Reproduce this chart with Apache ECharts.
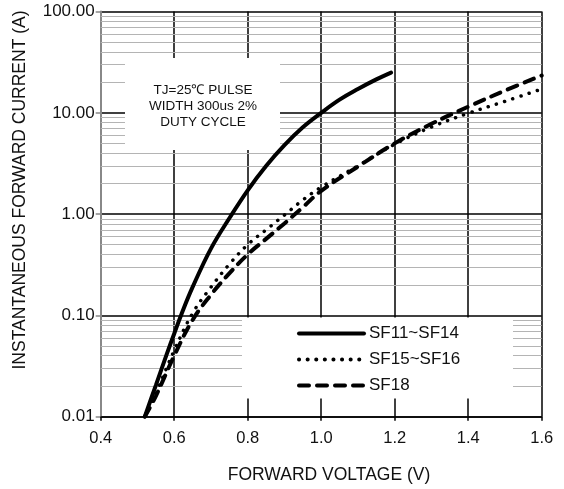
<!DOCTYPE html>
<html>
<head>
<meta charset="utf-8">
<script src="https://cdn.jsdelivr.net/npm/echarts@6/dist/echarts.min.js"></script>
<style>
html,body{margin:0;padding:0;background:#fff;}
#chart{width:564px;height:489px;}
</style>
</head>
<body>
<div id="chart"></div>
<script>
// ---- data ----
const seriesNames = ['SF11~SF14', 'SF15~SF16', 'SF18'];
const solidV = [0.52, 0.55, 0.58, 0.60, 0.62, 0.65, 0.70, 0.75, 0.80, 0.85, 0.90, 0.95, 1.00, 1.05, 1.10, 1.15, 1.19];
const solidI = [0.01, 0.0204, 0.0417, 0.066, 0.1035, 0.19, 0.457, 0.91, 1.72, 2.99, 4.8, 7.2, 10, 13.5, 17.2, 21.4, 25];
const dotV = [0.52, 0.55, 0.60, 0.65, 0.70, 0.75, 0.80, 0.85, 0.90, 0.95, 1.00, 1.10, 1.20, 1.30, 1.40, 1.50, 1.60];
const dotI = [0.01, 0.017, 0.045, 0.105, 0.19, 0.32, 0.50, 0.70, 0.98, 1.38, 1.85, 3.0, 4.9, 7.25, 9.9, 13.0, 17.2];
const dashV = [0.52, 0.55, 0.60, 0.65, 0.70, 0.75, 0.80, 0.85, 0.90, 0.95, 1.00, 1.10, 1.20, 1.30, 1.40, 1.50, 1.60];
const dashI = [0.01, 0.016, 0.04, 0.09, 0.16, 0.26, 0.40, 0.57, 0.81, 1.17, 1.7, 2.95, 5.0, 7.8, 11.5, 16.6, 23.4];
const xMin = 0.4, xMax = 1.6, xStep = 0.2;
const yMin = 0.01, yMax = 100;
const decades = [0.01, 0.1, 1, 10];
const minorMultipliers = [2, 3, 4, 5, 6, 7, 8, 9];
const xTitle = 'FORWARD VOLTAGE (V)';
const yTitle = 'INSTANTANEOUS FORWARD CURRENT (A)';
const noteLines = ['TJ=25\u2103 PULSE', 'WIDTH 300us 2%', 'DUTY CYCLE'];

const zip = (a, b) => a.map((v, i) => [v, b[i]]);
const minorValues = [];
decades.forEach(d => minorMultipliers.forEach(m => minorValues.push(+(d * m).toPrecision(3))));

const FONT = '"Liberation Sans", Arial, sans-serif';
const chart = echarts.init(document.getElementById('chart'), null, {renderer: 'canvas'});

const option = {
  animation: false,
  backgroundColor: '#fff',
  color: ['#000', '#000', '#000'],
  grid: {left: 100.7, right: 22.3, top: 11.6, bottom: 72.3, containLabel: false},
  xAxis: {
    type: 'value', min: xMin, max: xMax, interval: xStep,
    axisLine: {show: true, lineStyle: {color: '#000', width: 1.5}},
    axisTick: {show: true, length: 4, lineStyle: {color: '#000', width: 1.5}},
    axisLabel: {margin: 13, color: '#111', fontSize: 16.5, fontFamily: FONT,
      formatter: v => v.toFixed(1)},
    splitLine: {show: true, lineStyle: {color: '#000', width: 1.5}}
  },
  yAxis: {
    type: 'log', logBase: 10, min: yMin, max: yMax,
    axisLine: {show: true, lineStyle: {color: '#888', width: 2}},
    axisTick: {show: true, length: 5, lineStyle: {color: '#888', width: 1.5}},
    axisLabel: {margin: 6, color: '#111', fontSize: 17, fontFamily: FONT,
      formatter: v => Number(v).toFixed(2)},
    splitLine: {show: true, lineStyle: {color: '#000', width: 1.5}}
  },
  legend: {
    orient: 'vertical', left: 297, top: 325, padding: 0,
    itemWidth: 65, itemHeight: 14, itemGap: 9,
    data: seriesNames,
    textStyle: {fontSize: 17, fontFamily: FONT, color: '#111'},
    itemStyle: {opacity: 0},
    lineStyle: {width: 4}
  },
  graphic: [
    {type: 'rect', z: 1, shape: {x: 125, y: 58, width: 155, height: 92}, style: {fill: '#fff'}, silent: true},
    {type: 'rect', z: 1, shape: {x: 242, y: 317.5, width: 271, height: 81}, style: {fill: '#fff'}, silent: true},
    {type: 'text', z: 3, x: 203, y: 106, silent: true,
      style: {text: noteLines.join('\n'), font: '13.5px ' + FONT, fill: '#111',
        textAlign: 'center', textVerticalAlign: 'middle', lineHeight: 16}},
    {type: 'text', z: 3, x: 329, y: 475, silent: true,
      style: {text: xTitle, font: '17.5px ' + FONT, fill: '#111', textAlign: 'center', textVerticalAlign: 'middle'}},
    {type: 'text', z: 3, x: 20, y: 190, rotation: Math.PI / 2, silent: true,
      style: {text: yTitle, font: '17.5px ' + FONT, fill: '#111', textAlign: 'center', textVerticalAlign: 'middle'}}
  ],
  series: [
    {
      name: '_minor', type: 'line', data: [], z: 0.5, silent: true,
      markLine: {
        z: 0.5, silent: true, symbol: ['none', 'none'], label: {show: false},
        lineStyle: {color: '#b4b4b4', width: 1.2, type: 'solid'},
        emphasis: {disabled: true},
        data: minorValues.map(v => ({yAxis: v}))
      }
    },
    {
      name: seriesNames[0], type: 'line', z: 5, smooth: 0.4, symbol: 'none',
      itemStyle: {color: '#000'},
      data: zip(solidV, solidI),
      lineStyle: {color: '#000', width: 4, type: 'solid', cap: 'round'}
    },
    {
      name: seriesNames[1], type: 'line', z: 5, smooth: 0.4, symbol: 'none',
      itemStyle: {color: '#000'},
      data: zip(dotV, dotI),
      lineStyle: {color: '#000', width: 3.5, type: [0.1, 8.5], cap: 'round'}
    },
    {
      name: seriesNames[2], type: 'line', z: 5, smooth: 0.4, symbol: 'none',
      itemStyle: {color: '#000'},
      data: zip(dashV, dashI),
      lineStyle: {color: '#000', width: 4, type: [10, 8], cap: 'round'}
    }
  ]
};
chart.setOption(option);
</script>
</body>
</html>
